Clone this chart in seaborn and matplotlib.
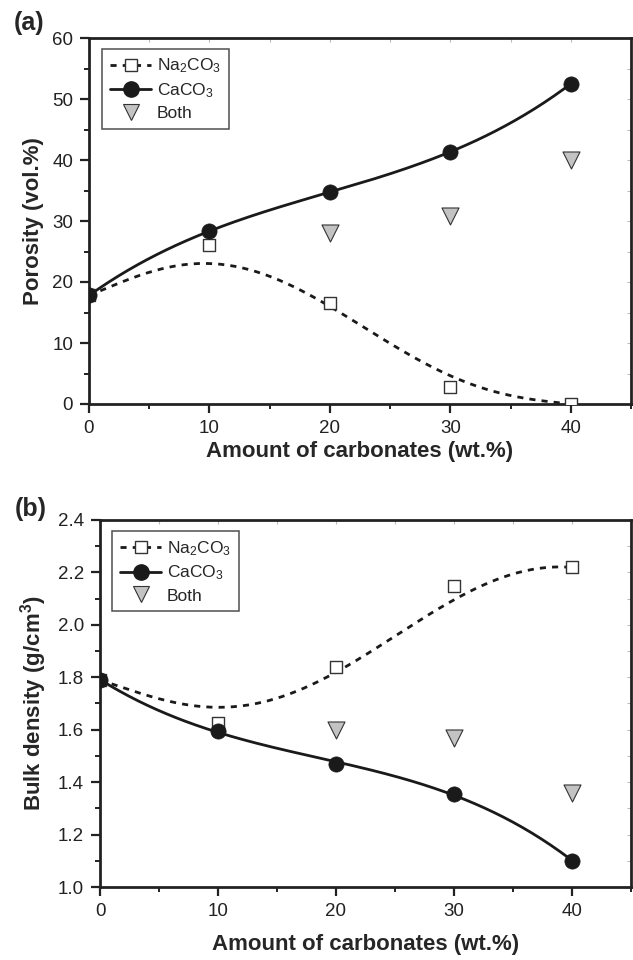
import numpy as np
import pandas as pd
import matplotlib
matplotlib.use("Agg")
import matplotlib.pyplot as plt
from matplotlib.lines import Line2D
from matplotlib.ticker import MultipleLocator, FormatStrFormatter
import seaborn as sns

sns.set_theme(style="ticks")
plt.rcParams['font.family'] = ['Liberation Sans', 'DejaVu Sans']
plt.rcParams['mathtext.default'] = 'regular'

# ---------------- data ----------------
amount = [0, 10, 20, 30, 40]
amount_both = [20, 30, 40]

por_na = [17.8, 26.0, 16.6, 2.8, 0.0]
por_ca = [17.8, 28.3, 34.8, 41.3, 52.5]
por_both = [28.0, 30.8, 40.0]

den_na = [1.79, 1.625, 1.84, 2.15, 2.22]
den_ca = [1.79, 1.595, 1.47, 1.355, 1.10]
den_both = [1.60, 1.57, 1.36]

# fitted dashed curves (every 5 wt.%)
curve_x = [0, 5, 10, 15, 20, 25, 30, 35, 40]
por_na_curve = [17.8, 21.6, 23.0, 21.0, 15.9, 10.0, 4.6, 1.4, 0.0]
den_na_curve = [1.79, 1.715, 1.688, 1.725, 1.81, 1.96, 2.10, 2.19, 2.22]

labels = ["Na$_2$CO$_3$", "CaCO$_3$", "Both"]
xlabel = "Amount of carbonates (wt.%)"
ylabels = ["Porosity (vol.%)", "Bulk density (g/cm$^3$)"]
panel_tags = ["(a)", "(b)"]

fig = plt.figure(figsize=(6.33, 9.6), dpi=100)
W, H = 633, 960

def px_axes(l, r, t, b):
    return fig.add_axes([l / W, 1 - b / H, (r - l) / W, (b - t) / H])

ax_a = px_axes(89, 631, 38, 404)
ax_b = px_axes(100, 631, 520, 887)

grey = '#c3c3c3'
ink = '#1a1a1a'

def draw(ax, na, ca, both, na_curve, ylim, ymaj, ymin, ylab, tag, leg_anchor, tag_xy, yfmt, xpad):
    xs = np.linspace(0, 40, 200)
    fit_na = np.polyval(np.polyfit(curve_x, na_curve, 5), xs)
    fit_ca = np.polyval(np.polyfit(amount, ca, 3), xs)
    sns.lineplot(x=xs, y=fit_na, ax=ax, color=ink, lw=2.0, linestyle=(0, (2.2, 2.2)))
    sns.lineplot(x=xs, y=fit_ca, ax=ax, color=ink, lw=2.0)
    sns.scatterplot(x=amount, y=na, ax=ax, marker='s', s=80, facecolor='white',
                    edgecolor='#333333', linewidth=1.0, zorder=3)
    sns.scatterplot(x=amount, y=ca, ax=ax, marker='o', s=120, color=ink,
                    edgecolor=ink, linewidth=0.5, zorder=4)
    sns.scatterplot(x=amount_both, y=both, ax=ax, marker='v', s=150, color=grey,
                    edgecolor='#333333', linewidth=0.8, zorder=3)
    ax.set_xlim(0, 45)
    ax.set_ylim(*ylim)
    ax.xaxis.set_major_locator(MultipleLocator(10))
    ax.xaxis.set_minor_locator(MultipleLocator(5))
    ax.yaxis.set_major_locator(MultipleLocator(ymaj))
    ax.yaxis.set_minor_locator(MultipleLocator(ymin))
    ax.yaxis.set_major_formatter(yfmt)
    ax.tick_params(which='major', direction='out', length=6.5, width=1.6, labelsize=13.5,
                   colors='#222222', pad=5)
    ax.tick_params(which='minor', direction='out', length=3.5, width=1.4, colors='#222222')
    for sp in ax.spines.values():
        sp.set_linewidth(2.0)
        sp.set_color('#222222')
    ax.set_xlabel(xlabel, fontsize=16, fontweight='bold', labelpad=xpad)
    ax.set_ylabel(ylab, fontsize=16, fontweight='bold', labelpad=6)
    # faint inner ticks on top / right
    sec = ax.secondary_xaxis('top')
    sec.xaxis.set_major_locator(MultipleLocator(5))
    sec.tick_params(direction='in', length=3, width=0.8, colors='#bbbbbb', labeltop=False)
    sec.spines['top'].set_visible(False)
    sec2 = ax.secondary_yaxis('right')
    sec2.yaxis.set_major_locator(MultipleLocator(ymin))
    sec2.tick_params(direction='in', length=3, width=0.8, colors='#bbbbbb', labelright=False)
    sec2.spines['right'].set_visible(False)

    handles = [
        Line2D([], [], color=ink, lw=2.0, linestyle=(0, (2.2, 2.2)), marker='s',
               markersize=9, markerfacecolor='white', markeredgecolor='#333333', markeredgewidth=1.0),
        Line2D([], [], color=ink, lw=2.0, marker='o', markersize=11,
               markerfacecolor=ink, markeredgecolor=ink),
        Line2D([], [], linestyle='none', marker='v', markersize=12, markerfacecolor=grey,
               markeredgecolor='#333333', markeredgewidth=0.8),
    ]
    leg = ax.legend(handles, labels, loc='upper left', bbox_to_anchor=leg_anchor,
                    borderaxespad=0, fontsize=12.5, frameon=True, fancybox=False,
                    edgecolor='#222222', handlelength=2.4, handletextpad=0.3,
                    labelspacing=0.35, borderpad=0.45)
    leg.get_frame().set_linewidth(1.1)
    fig.text(tag_xy[0] / W, 1 - tag_xy[1] / H, tag, fontsize=18, fontweight='bold',
             ha='center', va='center')

draw(ax_a, por_na, por_ca, por_both, por_na_curve, (0, 60), 10, 5, ylabels[0],
     panel_tags[0], (0.024, 0.97), (29, 23), FormatStrFormatter('%d'), 3)
draw(ax_b, den_na, den_ca, den_both, den_na_curve, (1.0, 2.4), 0.2, 0.1, ylabels[1],
     panel_tags[1], (0.0226, 0.97), (31, 509), FormatStrFormatter('%.1f'), 10)

fig.savefig('out.png', dpi=100)
